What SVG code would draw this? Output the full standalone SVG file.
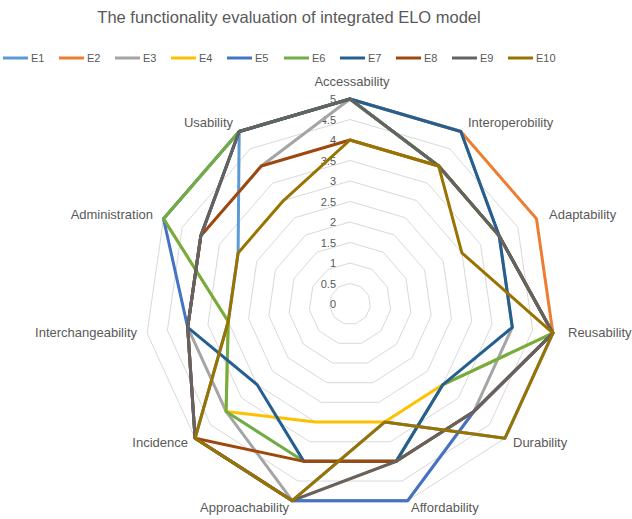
<svg xmlns="http://www.w3.org/2000/svg" width="632" height="519" viewBox="0 0 632 519">
<style>
.ring{fill:none;stroke:#D9D9D9;stroke-width:1}
.ser{fill:none;stroke-width:3;stroke-linejoin:round;stroke-linecap:round}
.leg{stroke-width:3}
text{font-family:"Liberation Sans",Arial,sans-serif;fill:#595959}
.cat{font-size:13px}
.val{font-size:11px;text-anchor:end}
.lt{font-size:11px}
.title{font-size:16.5px;text-anchor:middle}
.e1{stroke:#5B9BD5}.e2{stroke:#ED7D31}.e3{stroke:#A5A5A5}.e4{stroke:#FFC000}.e5{stroke:#4472C4}
.e6{stroke:#70AD47}.e7{stroke:#255E91}.e8{stroke:#9E480E}.e9{stroke:#636363}.e10{stroke:#997300}
</style>
<rect width="632" height="519" fill="#FFFFFF"/>
<text id="title" class="title" x="289" y="23">The functionality evaluation of integrated ELO model</text>
<g id="legend">
<line class="leg e1" x1="3" y1="58" x2="28" y2="58"/><text class="lt" x="31" y="62">E1</text>
<line class="leg e2" x1="59" y1="58" x2="84" y2="58"/><text class="lt" x="87" y="62">E2</text>
<line class="leg e3" x1="115" y1="58" x2="140" y2="58"/><text class="lt" x="143" y="62">E3</text>
<line class="leg e4" x1="171" y1="58" x2="196" y2="58"/><text class="lt" x="199" y="62">E4</text>
<line class="leg e5" x1="227" y1="58" x2="252" y2="58"/><text class="lt" x="255" y="62">E5</text>
<line class="leg e6" x1="284" y1="58" x2="309" y2="58"/><text class="lt" x="312" y="62">E6</text>
<line class="leg e7" x1="340" y1="58" x2="365" y2="58"/><text class="lt" x="368" y="62">E7</text>
<line class="leg e8" x1="396" y1="58" x2="421" y2="58"/><text class="lt" x="424" y="62">E8</text>
<line class="leg e9" x1="452" y1="58" x2="477" y2="58"/><text class="lt" x="480" y="62">E9</text>
<line class="leg e10" x1="508" y1="58" x2="533" y2="58"/><text class="lt" x="536" y="62">E10</text>
</g>
<g id="grid">
<polygon class="ring" points="350,283.5 361.08,286.75 368.65,295.48 370.29,306.92 365.49,317.42 355.78,323.67 344.22,323.67 334.51,317.42 329.71,306.92 331.35,295.48 338.92,286.75"/>
<polygon class="ring" points="350,263 372.17,269.51 387.29,286.97 390.58,309.83 380.99,330.85 361.55,343.34 338.45,343.34 319.01,330.85 309.42,309.83 312.71,286.97 327.83,269.51"/>
<polygon class="ring" points="350,242.5 383.25,252.26 405.94,278.45 410.87,312.75 396.48,344.27 367.33,363.01 332.67,363.01 303.52,344.27 289.13,312.75 294.06,278.45 316.75,252.26"/>
<polygon class="ring" points="350,222 394.33,235.02 424.59,269.94 431.17,315.67 411.97,357.7 373.1,382.68 326.9,382.68 288.03,357.7 268.83,315.67 275.41,269.94 305.67,235.02"/>
<polygon class="ring" points="350,201.5 405.42,217.77 443.24,261.42 451.46,318.59 427.46,371.12 378.88,402.35 321.12,402.35 272.54,371.12 248.54,318.59 256.76,261.42 294.58,217.77"/>
<polygon class="ring" points="350,181 416.5,200.53 461.88,252.9 471.75,321.5 442.96,384.55 384.65,422.02 315.35,422.02 257.04,384.55 228.25,321.5 238.12,252.9 283.5,200.53"/>
<polygon class="ring" points="350,160.5 427.58,183.28 480.53,244.39 492.04,324.42 458.45,397.97 390.43,441.69 309.57,441.69 241.55,397.97 207.96,324.42 219.47,244.39 272.42,183.28"/>
<polygon class="ring" points="350,140 438.66,166.03 499.18,235.87 512.33,327.34 473.94,411.4 396.2,461.36 303.8,461.36 226.06,411.4 187.67,327.34 200.82,235.87 261.34,166.03"/>
<polygon class="ring" points="350,119.5 449.75,148.79 517.83,227.36 532.62,330.26 489.44,424.82 401.98,481.03 298.02,481.03 210.56,424.82 167.38,330.26 182.17,227.36 250.25,148.79"/>
<polygon class="ring" points="350,99 460.83,131.54 536.47,218.84 552.91,333.17 504.93,438.25 407.75,500.7 292.25,500.7 195.07,438.25 147.09,333.17 163.53,218.84 239.17,131.54"/>
</g>
<g id="value-labels">
<text class="val" x="336" y="308">0</text>
<text class="val" x="336" y="287.5">0.5</text>
<text class="val" x="336" y="267">1</text>
<text class="val" x="336" y="246.5">1.5</text>
<text class="val" x="336" y="226">2</text>
<text class="val" x="336" y="205.5">2.5</text>
<text class="val" x="336" y="185">3</text>
<text class="val" x="336" y="164.5">3.5</text>
<text class="val" x="336" y="144">4</text>
<text class="val" x="336" y="123.5">4.5</text>
<text class="val" x="336" y="103">5</text>
</g>
<g id="category-labels">
<text class="cat" x="352" y="86" text-anchor="middle">Accessability</text>
<text class="cat" x="468" y="127">Interoperobility</text>
<text class="cat" x="549" y="219">Adaptability</text>
<text class="cat" x="568" y="337">Reusability</text>
<text class="cat" x="513" y="447">Durability</text>
<text class="cat" x="411" y="512">Affordability</text>
<text class="cat" x="289" y="512" text-anchor="end">Approachability</text>
<text class="cat" x="188" y="447" text-anchor="end">Incidence</text>
<text class="cat" x="137" y="337" text-anchor="end">Interchangeability</text>
<text class="cat" x="153" y="219" text-anchor="end">Administration</text>
<text class="cat" x="233" y="127" text-anchor="end">Usability</text>
</g>
<g id="series">
<polygon id="E1" class="ser e1" points="350,99 438.66,166.03 499.18,235.87 552.91,333.17 504.93,438.25 384.65,422.02 292.25,500.7 195.07,438.25 228.25,321.5 238.12,252.9 239.17,131.54"/>
<polygon id="E2" class="ser e2" points="350,99 460.83,131.54 536.47,218.84 552.91,333.17 473.94,411.4 396.2,461.36 292.25,500.7 195.07,438.25 187.67,327.34 200.82,235.87 239.17,131.54"/>
<polygon id="E3" class="ser e3" points="350,99 460.83,131.54 499.18,235.87 512.33,327.34 473.94,411.4 407.75,500.7 292.25,500.7 226.06,411.4 187.67,327.34 200.82,235.87 261.34,166.03"/>
<polygon id="E4" class="ser e4" points="350,99 438.66,166.03 499.18,235.87 552.91,333.17 442.96,384.55 384.65,422.02 315.35,422.02 226.06,411.4 228.25,321.5 163.53,218.84 239.17,131.54"/>
<polygon id="E5" class="ser e5" points="350,99 438.66,166.03 499.18,235.87 552.91,333.17 473.94,411.4 407.75,500.7 292.25,500.7 195.07,438.25 187.67,327.34 163.53,218.84 239.17,131.54"/>
<polygon id="E6" class="ser e6" points="350,99 438.66,166.03 499.18,235.87 552.91,333.17 442.96,384.55 396.2,461.36 303.8,461.36 226.06,411.4 228.25,321.5 163.53,218.84 239.17,131.54"/>
<polygon id="E7" class="ser e7" points="350,99 460.83,131.54 499.18,235.87 512.33,327.34 442.96,384.55 396.2,461.36 303.8,461.36 257.04,384.55 187.67,327.34 200.82,235.87 239.17,131.54"/>
<polygon id="E8" class="ser e8" points="350,140 438.66,166.03 499.18,235.87 552.91,333.17 473.94,411.4 396.2,461.36 303.8,461.36 195.07,438.25 187.67,327.34 200.82,235.87 261.34,166.03"/>
<polygon id="E9" class="ser e9" points="350,99 438.66,166.03 499.18,235.87 552.91,333.17 473.94,411.4 396.2,461.36 292.25,500.7 195.07,438.25 187.67,327.34 200.82,235.87 239.17,131.54"/>
<polygon id="E10" class="ser e10" points="350,140 438.66,166.03 461.88,252.9 552.91,333.17 504.93,438.25 384.65,422.02 292.25,500.7 195.07,438.25 228.25,321.5 238.12,252.9 283.5,200.53"/>
</g>
</svg>
